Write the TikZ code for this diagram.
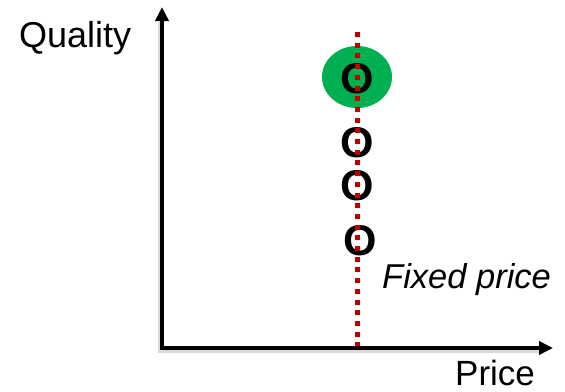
\documentclass[tikz,border=0pt]{standalone}
\usepackage{fontspec}
\setmainfont{Liberation Sans}
\usetikzlibrary{arrows.meta,shapes.geometric}
\definecolor{pptgreen}{HTML}{00B050}
\definecolor{pptred}{HTML}{C00000}
\begin{document}
\begin{tikzpicture}[x=1pt,y=-1pt,
  axis/.style={line width=4.5pt,black,arrows={Triangle[width=13pt,length=14pt]-Triangle[width=13pt,length=14pt]}},
  axisshadow/.style={line width=5pt,black!25,opacity=0.6},
  axlabel/.style={inner sep=0pt,anchor=base west,text depth=0pt,font=\fontsize{36}{40}\selectfont},
  omark/.style={inner sep=0pt,font=\fontsize{43}{46}\selectfont\bfseries},
  fixline/.style={pptred,line width=5pt,dash pattern=on 5pt off 5.7pt}]
\useasboundingbox (0,0) rectangle (565,391);
% axes
\coordinate (origin) at (162,348);
\coordinate (ytip) at (162,7);
\coordinate (xtip) at (553,348);
\draw[axisshadow] ([shift={(-1.5,15)}]ytip) -- ([shift={(-1.5,2)}]origin) -- ([shift={(-14,2)}]xtip);
\draw[axis] (ytip) -- (origin) -- (xtip);
% labels
\node[axlabel] (quality) at (19,47) {Quality};
\node[axlabel,font=\fontsize{35}{38}\selectfont] (price) at (455,385) {Price};
\node[axlabel,font=\fontsize{34.5}{38}\selectfont\itshape] (fixed) at (382,288) {Fixed price};
% highlight
\node[ellipse,fill=pptgreen,minimum width=70pt,minimum height=62pt,inner sep=0pt] (hl) at (357,77) {};
% marks
\node[omark] (o1) at (357,79) {O};
\node[omark] (o2) at (357,143) {O};
\node[omark] (o3) at (357,186) {O};
\node[omark] (o4) at (360,241) {O};
% fixed price line
\coordinate (ftop) at (357.5,32);
\coordinate (fbot) at (357.5,346);
\draw[fixline] (ftop) -- (fbot);
\end{tikzpicture}
\end{document}
